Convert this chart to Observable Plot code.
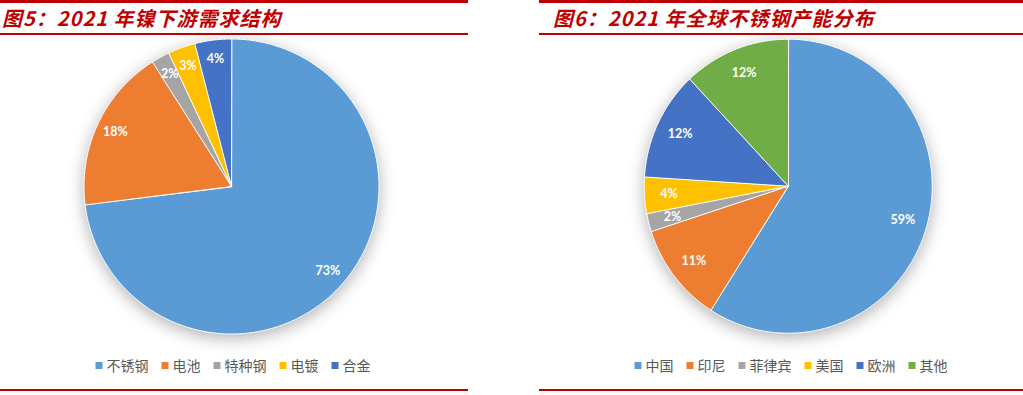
<!DOCTYPE html>
<html><head><meta charset="utf-8">
<script src="https://cdn.jsdelivr.net/npm/d3@7"></script>
<script src="https://cdn.jsdelivr.net/npm/@observablehq/plot@0.6"></script>
<style>
body{margin:0;background:#fff;}
#wrap{position:relative;width:1023px;height:395px;overflow:hidden;}
.panel{position:absolute;top:0;height:395px;}
.topbar{position:absolute;left:0;right:0;top:0;height:3px;background:#c00000;}
.thin{position:absolute;left:0;right:0;top:33px;height:1.5px;background:#c00000;}
.bottom{position:absolute;left:0;right:0;top:389px;height:1.5px;background:#c00000;}
.title{position:absolute;top:3px;font:italic bold 20px "Noto Sans CJK SC";color:#c00000;white-space:nowrap;letter-spacing:1px;}
.chart{position:absolute;left:0;top:36px;}
.chart svg{overflow:visible;}
.legend{position:absolute;top:355px;display:flex;align-items:center;transform:translateX(-50%);white-space:nowrap;font:14px "Noto Sans CJK SC";color:#595959;line-height:20px;}
.legend .item{display:flex;align-items:center;margin-right:13px;}
.legend .item:last-child{margin-right:0;}
.legend .sw{width:7px;height:7px;margin-right:4px;}
</style></head>
<body><div id="wrap"></div>
<script>
// ---- data ----
const titles = ["图5：2021 年镍下游需求结构", "图6：2021 年全球不锈钢产能分布"];
const nickelCategories = ["不锈钢", "电池", "特种钢", "电镀", "合金"];
const nickelShares = [73, 18, 2, 3, 4];
const stainlessRegions = ["中国", "印尼", "菲律宾", "美国", "欧洲", "其他"];
const stainlessShares = [59, 11, 2, 4, 12, 12];
const palette = ["#5B9BD5", "#ED7D31", "#A5A5A5", "#FFC000", "#4472C4", "#70AD47"];

function pieChart(names, values, o) {
  const total = d3.sum(values);
  let acc = 0;
  const pts = [], labels = [];
  names.forEach((name, i) => {
    const a0 = acc / total * 2 * Math.PI; acc += values[i];
    const a1 = acc / total * 2 * Math.PI;
    const n = Math.max(2, Math.ceil((a1 - a0) / (Math.PI / 360)));
    pts.push({name, x: 0, y: 0});
    for (let k = 0; k <= n; k++) {
      const a = a0 + (a1 - a0) * k / n;
      pts.push({name, x: Math.sin(a), y: Math.cos(a)});
    }
    const am = (a0 + a1) / 2;
    labels.push({name, x: o.labelR * Math.sin(am), y: o.labelR * Math.cos(am), text: values[i] + "%"});
  });
  const plot = Plot.plot({
    width: o.width, height: o.height,
    marginLeft: o.cx - o.rx, marginRight: o.width - o.cx - o.rx,
    marginTop: o.cy - o.ry, marginBottom: o.height - o.cy - o.ry,
    x: {domain: [-1, 1], axis: null},
    y: {domain: [-1, 1], axis: null},
    color: {domain: names, range: palette.slice(0, names.length)},
    style: {background: "transparent", overflow: "visible"},
    marks: [
      Plot.line(pts, {x: "x", y: "y", z: "name", fill: "name", stroke: "white", strokeWidth: 1, curve: "linear-closed"}),
      Plot.text(labels, {x: "x", y: "y", text: "text", fill: "white", fontWeight: "bold", fontSize: 12.5, fontFamily: "Lato"})
    ]
  });
  const g = plot.querySelector('g[aria-label="line"]');
  if (g) g.style.filter = "drop-shadow(0px 4px 8px rgba(0,0,0,0.3))";
  return plot;
}

function panel(left, width, title, names, values, o) {
  const p = document.createElement("div");
  p.className = "panel";
  p.style.left = left + "px"; p.style.width = width + "px";
  p.innerHTML = '<div class="topbar"></div><div class="thin"></div><div class="bottom"></div>';
  const t = document.createElement("div"); t.className = "title"; t.textContent = title;
  t.style.left = o.titleX + "px"; p.appendChild(t);
  const c = document.createElement("div"); c.className = "chart";
  c.appendChild(pieChart(names, values, Object.assign({width}, o)));
  p.appendChild(c);
  const lg = document.createElement("div"); lg.className = "legend";
  lg.style.left = o.legendX + "px";
  names.forEach((n, i) => {
    const it = document.createElement("div"); it.className = "item";
    const sw = document.createElement("div"); sw.className = "sw"; sw.style.background = palette[i];
    const tx = document.createElement("span"); tx.textContent = n;
    it.appendChild(sw); it.appendChild(tx); lg.appendChild(it);
  });
  p.appendChild(lg);
  document.getElementById("wrap").appendChild(p);
}

panel(0, 468, titles[0], nickelCategories, nickelShares,
  {height: 300, cx: 231, cy: 150, rx: 147.5, ry: 147.5, labelR: 0.87, legendX: 233, titleX: 2});
panel(539, 484, titles[1], stainlessRegions, stainlessShares,
  {height: 300, cx: 248.7, cy: 149.7, rx: 144, ry: 147, labelR: 0.83, legendX: 252, titleX: 14});
</script>
</body></html>
